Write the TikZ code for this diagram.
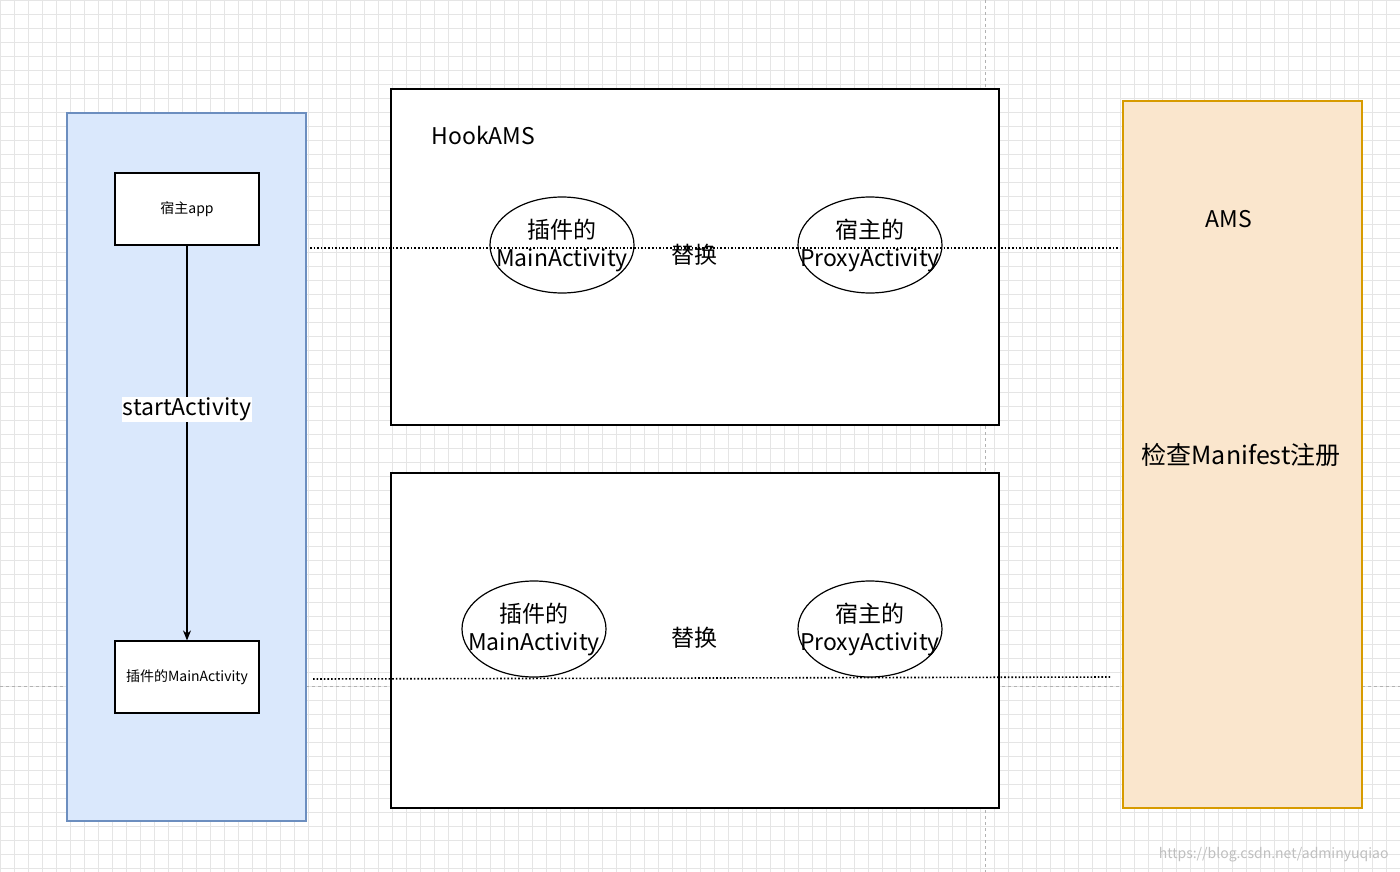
\documentclass[tikz,border=0pt]{standalone}
\usepackage{fontspec}
\usetikzlibrary{shapes.geometric,arrows.meta}
\setmainfont{Noto Sans CJK SC}
\begin{document}
\begin{tikzpicture}[x=1pt,y=-1pt,
 box/.style={draw,line width=1.2pt,fill=white},
 ell/.style={draw,line width=1.2pt,ellipse,minimum width=144pt,minimum height=96pt,inner sep=0pt},
 etxt/.style={align=center,inner sep=0pt,font=\fontsize{23}{28}\selectfont},
 big/.style={font=\fontsize{23}{27}\selectfont},
 dots/.style={dotted,line width=1.6pt}]
\useasboundingbox (0,0) rectangle (1400,872);
\fill[white] (0,0) rectangle (1400,872);
\foreach \x in {0,14,...,1400} \draw[black!10,line width=0.4pt] (\x,0) -- (\x,872);
\foreach \y in {0,14,...,872} \draw[black!10,line width=0.4pt] (0,\y) -- (1400,\y);
\draw[black!30,dashed,line width=1pt] (985,0) -- (985,872);
\draw[black!30,dashed,line width=1pt] (0,686) -- (1400,686);
\draw[draw={rgb,255:red,108;green,142;blue,191},fill={rgb,255:red,218;green,232;blue,252},line width=1.2pt] (67,113) rectangle (306,821);
\draw[draw={rgb,255:red,215;green,155;blue,0},fill={rgb,255:red,250;green,230;blue,205},line width=1.2pt] (1123,101) rectangle (1362,808);
\node[box,minimum width=144pt,minimum height=72pt,font=\fontsize{14}{16}\selectfont] (host) at (187,209) {宿主app};
\node[box,minimum width=144pt,minimum height=72pt,font=\fontsize{14}{16}\selectfont] (plug) at (187,677) {插件的MainActivity};
\draw[-{Stealth[length=10pt,width=8pt]},line width=1.2pt] (host) -- (plug) node[pos=0.415,fill=white,inner sep=1pt,big] {startActivity};
\draw[box] (391,89) rectangle (999,425);
\draw[box] (391,473) rectangle (999,808);
\node[big,anchor=west] (hook) at (428,135) {HookAMS};
\draw[dots] (310,248) -- (1120,248);
\draw[dots] (313,679) -- (1110,677);
\node[ell] (e1) at (562,245) {};
\node[etxt] at (e1) {插件的\\MainActivity};
\node[ell] (e2) at (870,245) {};
\node[etxt] at (e2) {宿主的\\ProxyActivity};
\node[big] (r1) at (694,255) {替换};
\node[ell] (e3) at (534,629) {};
\node[etxt] at (e3) {插件的\\MainActivity};
\node[ell] (e4) at (870,629) {};
\node[etxt] at (e4) {宿主的\\ProxyActivity};
\node[big] (r2) at (694,638) {替换};
\node[big] (ams) at (1229,219) {AMS};
\node[font=\fontsize{25}{29}\selectfont] (chk) at (1241,455) {检查Manifest注册};
\node[text=black!25,font=\fontsize{14}{16}\selectfont,anchor=east] (wm) at (1392,855) {https://blog.csdn.net/adminyuqiao};
\end{tikzpicture}
\end{document}
